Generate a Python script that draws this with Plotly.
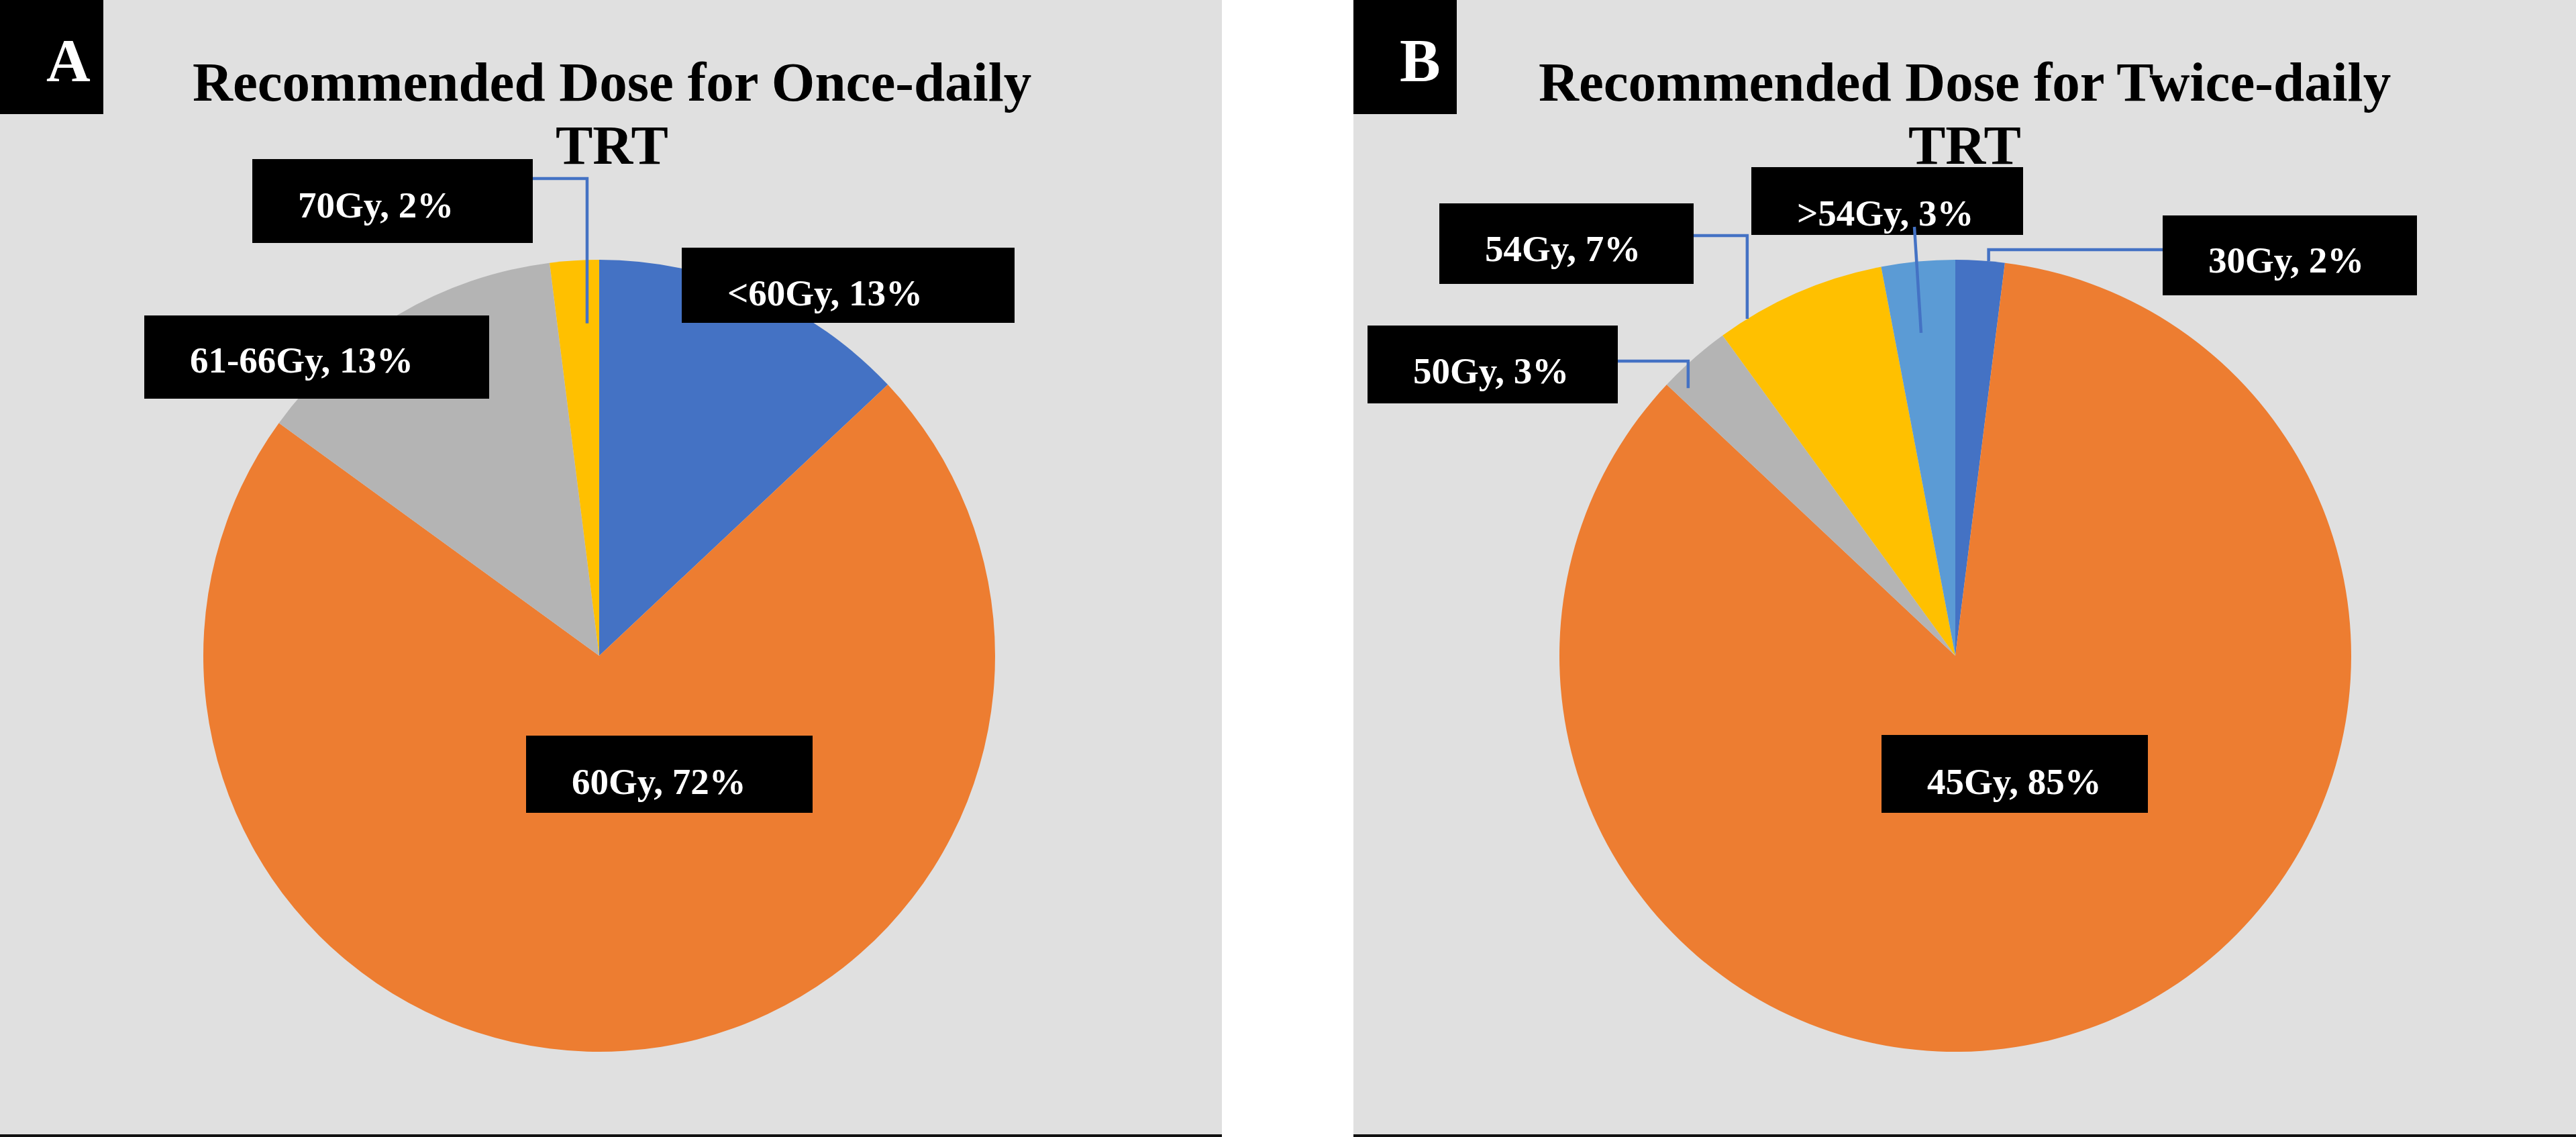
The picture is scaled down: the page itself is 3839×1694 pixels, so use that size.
import math
import plotly.graph_objects as go


# A: recommended dose for once-daily TRT
once_labels = ["<60Gy", "60Gy", "61-66Gy", "70Gy"]
once_values = [13, 72, 13, 2]
once_colors = ["#4472C4", "#ED7D31", "#B4B4B4", "#FFC000"]

# B: recommended dose for twice-daily TRT
twice_labels = ["30Gy", "45Gy", "50Gy", "54Gy", ">54Gy"]
twice_values = [2, 85, 3, 7, 3]
twice_colors = ["#4472C4", "#ED7D31", "#B4B4B4", "#FFC000", "#5B9BD5"]


W, H = 3839, 1694
R = 590
FONT = "Liberation Serif"
LEADER = "#4472C4"


def px(x):
    return x / W


def py(y):
    return 1 - y / H


panels = [
    {
        "tag": "A",
        "left": 0, "right": 1821,
        "title": ["Recommended Dose for Once-daily", "TRT"], "title_x": 912,
        "center": (893, 977),
        "labels": once_labels, "values": once_values, "colors": once_colors,
        # label boxes: x0, y0, x1, y1, text middle
        "boxes": [(1016, 369, 1512, 481, 436), (784, 1096, 1211, 1211, 1164),
                  (215, 470, 729, 594, 536), (376, 237, 794, 362, 306)],
        # leader lines: slice index -> kind, start x, start y, where in slice, radius share
        "leaders": {3: ("elbow", 794, 266, 0.71, 0.84)},
    },
    {
        "tag": "B",
        "left": 2017, "right": 3839,
        "title": ["Recommended Dose for Twice-daily", "TRT"], "title_x": 2928,
        "center": (2914, 977),
        "labels": twice_labels, "values": twice_values, "colors": twice_colors,
        "boxes": [(3223, 321, 3602, 440, 388), (2804, 1095, 3201, 1211, 1164),
                  (2038, 485, 2411, 601, 552), (2145, 303, 2524, 423, 370),
                  (2610, 249, 3015, 350, 317)],
        "leaders": {0: ("elbow", 3223, 372, 0.67, 1.0),
                    2: ("elbow", 2411, 538, 0.17, 0.955),
                    3: ("elbow", 2524, 351, 0.17, 1.0),
                    4: ("line", 2853, 338, 0.44, 0.82)},
    },
]


fig = go.Figure()
shapes = []
annotations = []

for panel in panels:
    cx, cy = panel["center"]

    # grey panel background and the dark bottom edge
    shapes.append(dict(type="rect", xref="paper", yref="paper", layer="below",
                       x0=px(panel["left"]), x1=px(panel["right"]), y0=0, y1=1,
                       fillcolor="#E0E0E0", line=dict(width=0)))
    shapes.append(dict(type="line", xref="paper", yref="paper", layer="above",
                       x0=px(panel["left"]), x1=px(panel["right"]), y0=py(1692), y1=py(1692),
                       line=dict(color="#111111", width=4)))

    fig.add_trace(go.Pie(
        labels=panel["labels"], values=panel["values"],
        marker=dict(colors=panel["colors"], line=dict(width=0)),
        sort=False, direction="clockwise", rotation=0,
        textinfo="none", hoverinfo="label+percent", showlegend=False,
        domain=dict(x=[px(cx - R), px(cx + R)], y=[py(cy + R), py(cy - R)]),
    ))

    # panel letter
    shapes.append(dict(type="rect", xref="paper", yref="paper", layer="above",
                       x0=px(panel["left"]), x1=px(panel["left"] + 154), y0=py(170), y1=1,
                       fillcolor="black", line=dict(width=0)))
    annotations.append(dict(text=panel["tag"], xref="paper", yref="paper",
                            x=px(panel["left"] + 67), y=py(90), xanchor="left", yanchor="middle",
                            showarrow=False,
                            font=dict(family=FONT, size=91, color="white", weight="bold")))

    # two-line title
    for line, mid in zip(panel["title"], [122, 216]):
        annotations.append(dict(text=line, xref="paper", yref="paper",
                                x=px(panel["title_x"]), y=py(mid), xanchor="center", yanchor="middle",
                                showarrow=False,
                                font=dict(family=FONT, size=83, color="black", weight="bold")))

    # slice angles (degrees clockwise from 12 o'clock)
    total = sum(panel["values"])
    starts, acc = [], 0
    for v in panel["values"]:
        starts.append(acc / total * 360)
        acc += v

    for i, (label, value) in enumerate(zip(panel["labels"], panel["values"])):
        x0, y0, x1, y1, ty = panel["boxes"][i]
        shapes.append(dict(type="rect", xref="paper", yref="paper", layer="above",
                           x0=px(x0), x1=px(x1), y0=py(y1), y1=py(y0),
                           fillcolor="black", line=dict(width=0)))
        annotations.append(dict(text="{}, {}%".format(label, value), xref="paper", yref="paper",
                                x=px(x0 + 66), y=py(ty), xanchor="left", yanchor="middle",
                                showarrow=False,
                                font=dict(family=FONT, size=55, color="white", weight="bold")))

        if i in panel["leaders"]:
            kind, sx, sy, where, share = panel["leaders"][i]
            theta = math.radians(starts[i] + where * value / total * 360)
            ex = cx + share * R * math.sin(theta)
            ey = cy - share * R * math.cos(theta)
            if kind == "elbow":
                points = [(sx, sy), (ex, sy), (ex, ey)]
            else:
                points = [(sx, sy), (ex, ey)]
            path = "M " + " L ".join("{:.5f},{:.5f}".format(px(a), py(b)) for a, b in points)
            shapes.append(dict(type="path", xref="paper", yref="paper", layer="above",
                               path=path, line=dict(color=LEADER, width=4.5)))


fig.update_layout(
    width=W, height=H,
    margin=dict(l=0, r=0, t=0, b=0),
    paper_bgcolor="white",
    shapes=shapes,
    annotations=annotations,
)

# the page's default body margin would push the figure 8px off the corner
fig.write_html("out.html", config={"displayModeBar": False},
               post_script="document.body.style.margin = '0';")
